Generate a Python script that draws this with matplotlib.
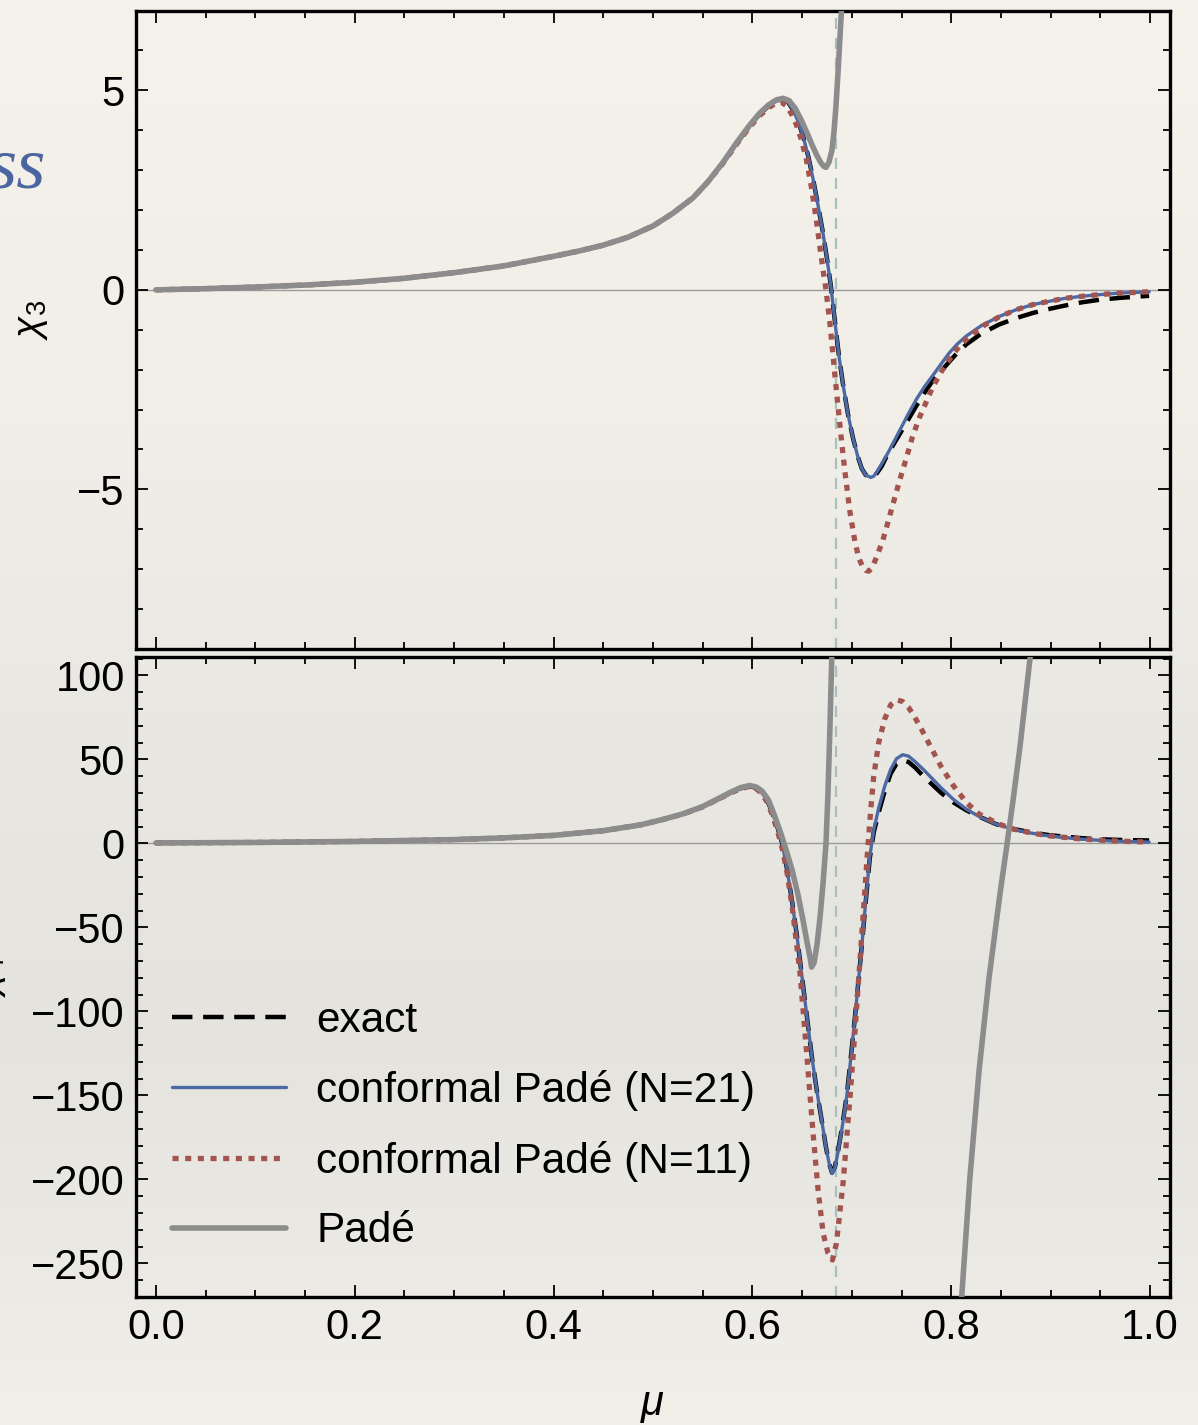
import numpy as np
import matplotlib
matplotlib.use("Agg")
import matplotlib.pyplot as plt
from matplotlib.ticker import MultipleLocator, FormatStrFormatter
from matplotlib.colors import LinearSegmentedColormap

plt.rcParams['font.family'] = ['Liberation Sans', 'DejaVu Sans']
plt.rcParams['mathtext.fontset'] = 'custom'
plt.rcParams['mathtext.rm'] = 'Liberation Sans'
plt.rcParams['mathtext.it'] = 'Liberation Sans:italic'

# ---------------- data ----------------
mu_critical = 0.684

# ---- top panel: chi_3 ----
mu_t_pade = [0.000, 0.050, 0.100, 0.150, 0.200, 0.250, 0.300, 0.350, 0.400, 0.425, 0.450, 0.475,
             0.500, 0.520, 0.540, 0.555, 0.570, 0.585, 0.597, 0.607, 0.616, 0.624, 0.631, 0.637,
             0.643, 0.649, 0.655, 0.660, 0.665, 0.669, 0.672, 0.674, 0.677, 0.680, 0.682, 0.684,
             0.686, 0.688, 0.690, 0.693]
chi3_pade = [0.00, 0.03, 0.07, 0.12, 0.19, 0.29, 0.43, 0.60, 0.84, 0.97, 1.12, 1.32,
             1.60, 1.92, 2.30, 2.70, 3.18, 3.72, 4.12, 4.42, 4.63, 4.76, 4.80, 4.74,
             4.55, 4.26, 3.93, 3.63, 3.36, 3.18, 3.09, 3.07, 3.20, 3.50, 3.95, 4.60,
             5.40, 6.30, 7.20, 8.80]

mu_t_cp21 = [0.000, 0.050, 0.100, 0.150, 0.200, 0.250, 0.300, 0.350, 0.400, 0.425, 0.450, 0.475,
             0.500, 0.520, 0.540, 0.555, 0.570, 0.585, 0.597, 0.607, 0.616, 0.624, 0.631, 0.636,
             0.641, 0.646, 0.651, 0.656, 0.661, 0.666, 0.671, 0.675, 0.679, 0.683, 0.687, 0.691,
             0.696, 0.701, 0.706, 0.710, 0.714, 0.719, 0.722, 0.725, 0.730, 0.736, 0.742, 0.748,
             0.757, 0.765, 0.773, 0.781, 0.790, 0.798, 0.806, 0.815, 0.830, 0.848, 0.865, 0.882,
             0.900, 0.915, 0.932, 0.949, 0.970, 0.999]
chi3_cp21 = [0.00, 0.03, 0.07, 0.12, 0.19, 0.29, 0.43, 0.60, 0.84, 0.97, 1.12, 1.32,
             1.60, 1.92, 2.30, 2.70, 3.17, 3.70, 4.10, 4.40, 4.60, 4.73, 4.77, 4.70,
             4.50, 4.22, 3.85, 3.36, 2.78, 2.12, 1.42, 0.78, 0.08, -0.80, -1.65, -2.35,
             -3.10, -3.70, -4.18, -4.48, -4.64, -4.70, -4.67, -4.57, -4.36, -4.10, -3.82, -3.53,
             -3.10, -2.74, -2.43, -2.16, -1.85, -1.58, -1.36, -1.16, -0.90, -0.67, -0.50, -0.37,
             -0.28, -0.21, -0.16, -0.12, -0.08, -0.05]

mu_t_exact = [0.000, 0.050, 0.100, 0.150, 0.200, 0.250, 0.300, 0.350, 0.400, 0.425, 0.450, 0.475,
              0.500, 0.520, 0.540, 0.555, 0.570, 0.585, 0.597, 0.607, 0.616, 0.624, 0.631, 0.636,
              0.641, 0.646, 0.651, 0.656, 0.661, 0.666, 0.671, 0.675, 0.679, 0.683, 0.687, 0.691,
              0.696, 0.701, 0.706, 0.710, 0.714, 0.719, 0.722, 0.725, 0.730, 0.736, 0.742, 0.748,
              0.757, 0.765, 0.773, 0.781, 0.790, 0.798, 0.806, 0.815, 0.830, 0.848, 0.865, 0.882,
              0.900, 0.915, 0.932, 0.949, 0.970, 0.999]
chi3_exact = [0.00, 0.03, 0.07, 0.12, 0.19, 0.29, 0.43, 0.60, 0.84, 0.97, 1.12, 1.32,
              1.60, 1.92, 2.30, 2.70, 3.17, 3.70, 4.10, 4.40, 4.60, 4.73, 4.77, 4.70,
              4.50, 4.22, 3.85, 3.36, 2.78, 2.12, 1.42, 0.78, 0.08, -0.80, -1.65, -2.35,
              -3.10, -3.70, -4.18, -4.48, -4.64, -4.70, -4.68, -4.60, -4.42, -4.12, -3.87, -3.62,
              -3.24, -2.90, -2.58, -2.29, -2.03, -1.80, -1.58, -1.37, -1.10, -0.87, -0.71, -0.58,
              -0.47, -0.39, -0.31, -0.25, -0.20, -0.15]

mu_t_cp11 = [0.000, 0.050, 0.100, 0.150, 0.200, 0.250, 0.300, 0.350, 0.400, 0.425, 0.450, 0.475,
             0.500, 0.520, 0.540, 0.555, 0.570, 0.585, 0.597, 0.607, 0.616, 0.623, 0.629, 0.634,
             0.639, 0.644, 0.649, 0.654, 0.659, 0.664, 0.668, 0.671, 0.674, 0.678, 0.683, 0.688,
             0.693, 0.698, 0.703, 0.707, 0.711, 0.714, 0.717, 0.720, 0.724, 0.731, 0.736, 0.741,
             0.748, 0.755, 0.761, 0.768, 0.775, 0.781, 0.790, 0.798, 0.806, 0.815, 0.830, 0.848,
             0.865, 0.882, 0.900, 0.915, 0.932, 0.949, 0.970, 0.999]
chi3_cp11 = [0.00, 0.03, 0.07, 0.12, 0.19, 0.29, 0.43, 0.60, 0.84, 0.97, 1.12, 1.32,
             1.60, 1.92, 2.30, 2.70, 3.16, 3.68, 4.07, 4.36, 4.56, 4.67, 4.70, 4.62,
             4.42, 4.15, 3.78, 3.30, 2.62, 1.80, 1.05, 0.50, 0.00, -0.85, -2.15, -3.40,
             -4.55, -5.55, -6.30, -6.72, -6.95, -7.03, -7.05, -6.98, -6.75, -6.29, -5.85, -5.40,
             -4.78, -4.20, -3.68, -3.20, -2.80, -2.45, -2.05, -1.75, -1.48, -1.25, -0.93, -0.68,
             -0.50, -0.37, -0.28, -0.21, -0.16, -0.12, -0.08, -0.05]

# ---- bottom panel: chi_4 ----
mu_b_pade = [0.000, 0.100, 0.200, 0.300, 0.350, 0.400, 0.450, 0.487, 0.510, 0.530, 0.550, 0.565,
             0.578, 0.588, 0.597, 0.604, 0.610, 0.616, 0.622, 0.628, 0.634, 0.640, 0.646, 0.651,
             0.655, 0.658, 0.6595, 0.662, 0.665, 0.668, 0.671, 0.674, 0.676, 0.678, 0.680, 0.682]
chi4_pade = [0.3, 0.6, 1.2, 2.3, 3.3, 4.8, 7.6, 11.0, 14.3, 17.6, 22.0, 26.5,
             30.5, 33.2, 34.5, 33.6, 31.0, 26.0, 17.0, 7.0, -4.0, -16.0, -31.0, -46.0,
             -59.0, -68.0, -73.6, -71.0, -60.0, -44.0, -24.0, 0.0, 30.0, 70.0, 115.0, 165.0]

mu_b_pade2 = [0.805, 0.8105, 0.8186, 0.828, 0.838, 0.849, 0.855, 0.862, 0.869, 0.879, 0.886]
chi4_pade2 = [-330.0, -270.0, -200.0, -135.0, -80.0, -30.0, -5.0, 25.0, 57.0, 109.0, 150.0]

mu_b_cp21 = [0.000, 0.100, 0.200, 0.300, 0.350, 0.400, 0.450, 0.487, 0.510, 0.530, 0.550, 0.565,
             0.578, 0.588, 0.596, 0.603, 0.609, 0.615, 0.620, 0.625, 0.630, 0.635, 0.640, 0.645,
             0.650, 0.655, 0.660, 0.665, 0.670, 0.674, 0.677, 0.680, 0.683, 0.686, 0.690, 0.695,
             0.700, 0.705, 0.710, 0.714, 0.718, 0.722, 0.727, 0.733, 0.739, 0.745, 0.751, 0.757,
             0.764, 0.772, 0.781, 0.790, 0.802, 0.815, 0.828, 0.845, 0.862, 0.880, 0.899, 0.930,
             0.960, 0.999]
chi4_cp21 = [0.3, 0.6, 1.2, 2.3, 3.3, 4.8, 7.6, 11.0, 14.3, 17.5, 21.8, 26.2,
             30.2, 32.8, 34.0, 33.3, 30.5, 25.5, 18.5, 10.0, 0.0, -16.0, -35.0, -56.0,
             -80.0, -104.0, -128.0, -148.0, -166.0, -181.0, -190.0, -196.5, -193.0, -184.0, -170.0, -150.0,
             -122.0, -92.0, -61.0, -34.0, -8.0, 8.0, 21.0, 34.0, 44.0, 50.5, 52.8, 52.0,
             48.5, 44.0, 38.5, 33.0, 26.3, 20.5, 16.0, 11.5, 8.5, 6.2, 4.4, 2.6,
             1.5, 0.8]

mu_b_exact = [0.000, 0.100, 0.200, 0.300, 0.350, 0.400, 0.450, 0.487, 0.510, 0.530, 0.550, 0.565,
              0.578, 0.588, 0.596, 0.603, 0.609, 0.615, 0.620, 0.625, 0.630, 0.635, 0.640, 0.645,
              0.650, 0.655, 0.660, 0.665, 0.670, 0.674, 0.677, 0.680, 0.683, 0.686, 0.690, 0.695,
              0.700, 0.705, 0.710, 0.714, 0.718, 0.722, 0.727, 0.733, 0.739, 0.745, 0.751, 0.757,
              0.764, 0.772, 0.781, 0.790, 0.802, 0.815, 0.828, 0.845, 0.862, 0.880, 0.899, 0.930,
              0.949, 0.975, 0.999]
chi4_exact = [0.3, 0.6, 1.2, 2.3, 3.3, 4.8, 7.6, 11.0, 14.3, 17.5, 21.8, 26.2,
              30.2, 32.8, 34.0, 33.3, 30.5, 25.5, 18.5, 10.0, 0.0, -16.0, -35.0, -56.0,
              -80.0, -104.0, -128.0, -148.0, -166.0, -181.0, -190.0, -196.0, -192.5, -183.5, -169.5, -149.5,
              -121.5, -92.0, -61.0, -34.5, -9.0, 6.5, 18.5, 31.0, 41.5, 47.5, 49.5, 48.5,
              45.0, 40.0, 35.0, 30.0, 24.5, 19.8, 16.0, 11.5, 8.7, 6.6, 4.9, 3.2,
              2.5, 2.0, 1.8]

mu_b_cp11 = [0.000, 0.100, 0.200, 0.300, 0.350, 0.400, 0.450, 0.487, 0.510, 0.530, 0.550, 0.565,
             0.578, 0.588, 0.596, 0.603, 0.609, 0.615, 0.620, 0.625, 0.630, 0.635, 0.640, 0.6476,
             0.6543, 0.661, 0.666, 0.6711, 0.6761, 0.6805, 0.6845, 0.6912, 0.6979, 0.703, 0.708, 0.712,
             0.716, 0.719, 0.722, 0.727, 0.733, 0.739, 0.745, 0.751, 0.757, 0.763, 0.770, 0.778,
             0.790, 0.802, 0.815, 0.828, 0.848, 0.862, 0.880, 0.899, 0.930, 0.960, 0.999]
chi4_cp11 = [0.3, 0.6, 1.2, 2.3, 3.3, 4.8, 7.6, 11.0, 14.3, 17.5, 21.8, 26.2,
             30.0, 32.6, 33.8, 33.0, 30.0, 24.5, 17.0, 8.0, -3.0, -18.0, -38.0, -75.6,
             -123.0, -172.6, -206.0, -232.0, -244.0, -248.0, -238.0, -202.0, -153.0, -113.0, -71.0, -37.0,
             -3.0, 20.0, 40.0, 60.0, 74.0, 82.5, 85.5, 84.5, 81.0, 75.5, 68.0, 59.0,
             45.5, 34.5, 24.5, 17.5, 11.5, 8.6, 6.3, 4.5, 2.7, 1.6, 0.8]

legend_labels = ["exact", "conformal Padé (N=21)", "conformal Padé (N=11)", "Padé"]

# ---------------- styling ----------------
C_EXACT = "black"
C_CP21 = "#4c69a3"
C_CP11 = "#a4544e"
C_PADE = "#8c8c8c"

W, H = 1198, 1425
fig = plt.figure(figsize=(W / 100, H / 100), dpi=100)

# paper-like background
bg = fig.add_axes([0, 0, 1, 1], zorder=-10)
bg.axis("off")
cmap = LinearSegmentedColormap.from_list("paper", [
    (0.00, (245/255, 242/255, 236/255)),
    (0.30, (241/255, 238/255, 232/255)),
    (0.50, (234/255, 232/255, 227/255)),
    (0.72, (229/255, 227/255, 222/255)),
    (0.88, (235/255, 233/255, 228/255)),
    (1.00, (242/255, 239/255, 233/255))])
grad = np.linspace(0, 1, 256).reshape(-1, 1)
bg.imshow(grad, aspect="auto", cmap=cmap, extent=[0, 1, 0, 1], origin="upper")
bg.set_xlim(0, 1)
bg.set_ylim(0, 1)

def rect(l, t, r, b):
    return [l / W, 1 - b / H, (r - l) / W, (b - t) / H]

ax1 = fig.add_axes(rect(136, 10.5, 1170, 649))
ax2 = fig.add_axes(rect(136, 657, 1170, 1297))

for ax in (ax1, ax2):
    ax.set_facecolor("none")
    ax.set_xlim(-0.02, 1.02)
    ax.xaxis.set_major_locator(MultipleLocator(0.2))
    ax.xaxis.set_minor_locator(MultipleLocator(0.05))
    ax.xaxis.set_major_formatter(FormatStrFormatter("%.1f"))
    ax.tick_params(which="both", direction="in", top=True, right=True, labelsize=30, width=1.3)
    ax.tick_params(which="major", length=8.6, pad=8)
    ax.tick_params(which="minor", length=5.2)
    for s in ax.spines.values():
        s.set_linewidth(2.4)
    ax.axhline(0, color="#9a9a9a", lw=1.0, zorder=1)
    ax.axvline(mu_critical, color="#a9c1bb", lw=1.6, dashes=(5, 4), zorder=1)

ax1.set_ylim(-9, 7)
ax1.yaxis.set_major_locator(MultipleLocator(5))
ax1.yaxis.set_minor_locator(MultipleLocator(1))
ax1.tick_params(axis="x", labelbottom=False)

ax2.set_ylim(-270, 111)
ax2.yaxis.set_major_locator(MultipleLocator(50))
ax2.yaxis.set_minor_locator(MultipleLocator(10))

def draw(ax, data, with_labels):
    (mx_e, y_e), (mx_21, y_21), (mx_11, y_11), pade = data
    kw = dict(zorder=3, solid_joinstyle="round", dash_joinstyle="round")
    ax.plot(mx_e, y_e, color=C_EXACT, lw=3.2, dashes=(4.6, 2.4), dash_capstyle="butt",
            label=legend_labels[0] if with_labels else None, **kw)
    ax.plot(mx_21, y_21, color=C_CP21, lw=2.4, solid_capstyle="round",
            label=legend_labels[1] if with_labels else None, **kw)
    ax.plot(mx_11, y_11, color=C_CP11, lw=3.8, dashes=(1.15, 1.25), dash_capstyle="butt",
            label=legend_labels[2] if with_labels else None, **kw)
    for i, (mx_p, y_p) in enumerate(pade):
        ax.plot(mx_p, y_p, color=C_PADE, lw=4.0, solid_capstyle="round",
                label=legend_labels[3] if (with_labels and i == 0) else None, **kw)

draw(ax1, [(mu_t_exact, chi3_exact), (mu_t_cp21, chi3_cp21), (mu_t_cp11, chi3_cp11),
           [(mu_t_pade, chi3_pade)]], False)
draw(ax2, [(mu_b_exact, chi4_exact), (mu_b_cp21, chi4_cp21), (mu_b_cp11, chi4_cp11),
           [(mu_b_pade, chi4_pade), (mu_b_pade2, chi4_pade2)]], True)

leg = ax2.legend(loc="center left", bbox_to_anchor=((172 - 136) / 1034, (1297 - 1126) / 640),
                 frameon=False, fontsize=30.5, handlelength=2.7, handletextpad=0.7,
                 labelspacing=0.70, borderpad=0, borderaxespad=0)

ax1.set_ylabel(r"$\chi_3$", fontsize=28)
ax1.yaxis.set_label_coords((50 - 136) / 1034, 0.515)
ax2.set_ylabel(r"$\chi_4$", fontsize=28)
ax2.yaxis.set_label_coords((8 - 136) / 1034, 0.5)
ax2.set_xlabel(r"$\mu$", fontsize=30)
ax2.xaxis.set_label_coords(0.5, -0.138)

fig.text(46 / W, 1 - 188 / H, "ss", ha="right", va="baseline", fontsize=54,
         style="italic", family="Liberation Serif", color="#4b65a0")

fig.savefig("out.png", dpi=100)
